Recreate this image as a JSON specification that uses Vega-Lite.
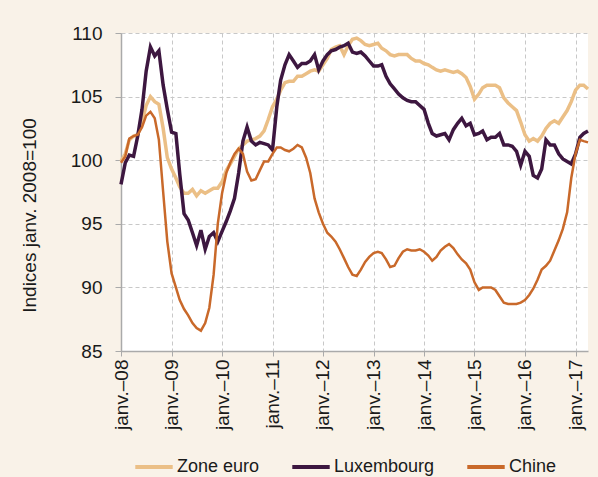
{
  "$schema": "https://vega.github.io/schema/vega-lite/v6.json",
  "width": 467,
  "height": 318,
  "autosize": {"type": "none"},
  "padding": {"left": 121, "top": 33, "right": 10, "bottom": 126},
  "background": "#f9f2e8",
  "config": {
    "view": {"fill": "white", "stroke": null},
    "font": "Liberation Sans",
    "axis": {"labelColor": "#1a1a1a", "titleColor": "#1a1a1a"}
  },
  "data": {"values": [
    {"d":"2008-01-01","Zone euro":99.9,"Luxembourg":98.1,"Chine":99.8},
    {"d":"2008-02-01","Zone euro":100.5,"Luxembourg":99.8,"Chine":100.3},
    {"d":"2008-03-01","Zone euro":101.6,"Luxembourg":100.4,"Chine":101.7},
    {"d":"2008-04-01","Zone euro":101.9,"Luxembourg":100.3,"Chine":101.9},
    {"d":"2008-05-01","Zone euro":102.0,"Luxembourg":101.9,"Chine":102.0},
    {"d":"2008-06-01","Zone euro":103.0,"Luxembourg":104.0,"Chine":102.6},
    {"d":"2008-07-01","Zone euro":104.3,"Luxembourg":107.0,"Chine":103.5},
    {"d":"2008-08-01","Zone euro":105.0,"Luxembourg":108.9,"Chine":103.8},
    {"d":"2008-09-01","Zone euro":104.6,"Luxembourg":108.2,"Chine":103.3},
    {"d":"2008-10-01","Zone euro":104.4,"Luxembourg":108.6,"Chine":101.6},
    {"d":"2008-11-01","Zone euro":102.5,"Luxembourg":105.9,"Chine":97.5},
    {"d":"2008-12-01","Zone euro":100.2,"Luxembourg":104.0,"Chine":93.6},
    {"d":"2009-01-01","Zone euro":99.3,"Luxembourg":102.2,"Chine":91.1},
    {"d":"2009-02-01","Zone euro":98.6,"Luxembourg":102.1,"Chine":90.0},
    {"d":"2009-03-01","Zone euro":97.9,"Luxembourg":98.9,"Chine":89.0},
    {"d":"2009-04-01","Zone euro":97.4,"Luxembourg":95.8,"Chine":88.3},
    {"d":"2009-05-01","Zone euro":97.4,"Luxembourg":95.3,"Chine":87.8},
    {"d":"2009-06-01","Zone euro":97.7,"Luxembourg":94.3,"Chine":87.2},
    {"d":"2009-07-01","Zone euro":97.2,"Luxembourg":93.3,"Chine":86.8},
    {"d":"2009-08-01","Zone euro":97.6,"Luxembourg":94.5,"Chine":86.6},
    {"d":"2009-09-01","Zone euro":97.4,"Luxembourg":93.0,"Chine":87.2},
    {"d":"2009-10-01","Zone euro":97.6,"Luxembourg":94.0,"Chine":88.4},
    {"d":"2009-11-01","Zone euro":97.8,"Luxembourg":94.3,"Chine":91.0},
    {"d":"2009-12-01","Zone euro":97.8,"Luxembourg":93.6,"Chine":95.0},
    {"d":"2010-01-01","Zone euro":98.3,"Luxembourg":94.4,"Chine":97.4},
    {"d":"2010-02-01","Zone euro":99.2,"Luxembourg":95.2,"Chine":99.0},
    {"d":"2010-03-01","Zone euro":99.7,"Luxembourg":96.0,"Chine":99.8},
    {"d":"2010-04-01","Zone euro":100.3,"Luxembourg":97.0,"Chine":100.5},
    {"d":"2010-05-01","Zone euro":100.9,"Luxembourg":99.0,"Chine":100.9},
    {"d":"2010-06-01","Zone euro":101.2,"Luxembourg":101.5,"Chine":100.5},
    {"d":"2010-07-01","Zone euro":101.5,"Luxembourg":102.6,"Chine":99.1},
    {"d":"2010-08-01","Zone euro":101.6,"Luxembourg":101.5,"Chine":98.4},
    {"d":"2010-09-01","Zone euro":101.7,"Luxembourg":101.2,"Chine":98.5},
    {"d":"2010-10-01","Zone euro":101.9,"Luxembourg":101.4,"Chine":99.2},
    {"d":"2010-11-01","Zone euro":102.3,"Luxembourg":101.3,"Chine":99.9},
    {"d":"2010-12-01","Zone euro":103.2,"Luxembourg":101.2,"Chine":99.9},
    {"d":"2011-01-01","Zone euro":104.2,"Luxembourg":100.8,"Chine":100.5},
    {"d":"2011-02-01","Zone euro":104.8,"Luxembourg":104.2,"Chine":101.0},
    {"d":"2011-03-01","Zone euro":105.5,"Luxembourg":106.3,"Chine":101.0},
    {"d":"2011-04-01","Zone euro":106.1,"Luxembourg":107.5,"Chine":100.8},
    {"d":"2011-05-01","Zone euro":106.2,"Luxembourg":108.3,"Chine":100.7},
    {"d":"2011-06-01","Zone euro":106.2,"Luxembourg":107.8,"Chine":100.9},
    {"d":"2011-07-01","Zone euro":106.6,"Luxembourg":107.3,"Chine":101.2},
    {"d":"2011-08-01","Zone euro":106.6,"Luxembourg":107.6,"Chine":101.0},
    {"d":"2011-09-01","Zone euro":106.8,"Luxembourg":107.6,"Chine":100.2},
    {"d":"2011-10-01","Zone euro":107.0,"Luxembourg":107.8,"Chine":99.0},
    {"d":"2011-11-01","Zone euro":107.1,"Luxembourg":108.3,"Chine":97.0},
    {"d":"2011-12-01","Zone euro":107.0,"Luxembourg":107.1,"Chine":95.9},
    {"d":"2012-01-01","Zone euro":107.5,"Luxembourg":107.8,"Chine":95.0},
    {"d":"2012-02-01","Zone euro":108.0,"Luxembourg":108.3,"Chine":94.3},
    {"d":"2012-03-01","Zone euro":108.7,"Luxembourg":108.6,"Chine":94.0},
    {"d":"2012-04-01","Zone euro":108.9,"Luxembourg":108.7,"Chine":93.6},
    {"d":"2012-05-01","Zone euro":109.0,"Luxembourg":108.9,"Chine":93.0},
    {"d":"2012-06-01","Zone euro":108.3,"Luxembourg":109.0,"Chine":92.3},
    {"d":"2012-07-01","Zone euro":109.0,"Luxembourg":109.2,"Chine":91.6},
    {"d":"2012-08-01","Zone euro":109.5,"Luxembourg":108.5,"Chine":91.0},
    {"d":"2012-09-01","Zone euro":109.6,"Luxembourg":108.4,"Chine":90.9},
    {"d":"2012-10-01","Zone euro":109.4,"Luxembourg":108.5,"Chine":91.4},
    {"d":"2012-11-01","Zone euro":109.1,"Luxembourg":108.2,"Chine":92.0},
    {"d":"2012-12-01","Zone euro":109.0,"Luxembourg":107.8,"Chine":92.4},
    {"d":"2013-01-01","Zone euro":109.1,"Luxembourg":107.4,"Chine":92.7},
    {"d":"2013-02-01","Zone euro":109.2,"Luxembourg":107.4,"Chine":92.8},
    {"d":"2013-03-01","Zone euro":108.8,"Luxembourg":107.5,"Chine":92.7},
    {"d":"2013-04-01","Zone euro":108.6,"Luxembourg":106.6,"Chine":92.2},
    {"d":"2013-05-01","Zone euro":108.3,"Luxembourg":106.0,"Chine":91.6},
    {"d":"2013-06-01","Zone euro":108.2,"Luxembourg":105.6,"Chine":91.7},
    {"d":"2013-07-01","Zone euro":108.3,"Luxembourg":105.2,"Chine":92.3},
    {"d":"2013-08-01","Zone euro":108.3,"Luxembourg":104.9,"Chine":92.8},
    {"d":"2013-09-01","Zone euro":108.3,"Luxembourg":104.7,"Chine":93.0},
    {"d":"2013-10-01","Zone euro":108.0,"Luxembourg":104.6,"Chine":92.9},
    {"d":"2013-11-01","Zone euro":107.8,"Luxembourg":104.6,"Chine":92.9},
    {"d":"2013-12-01","Zone euro":107.8,"Luxembourg":104.3,"Chine":93.0},
    {"d":"2014-01-01","Zone euro":107.6,"Luxembourg":104.0,"Chine":92.8},
    {"d":"2014-02-01","Zone euro":107.5,"Luxembourg":102.9,"Chine":92.5},
    {"d":"2014-03-01","Zone euro":107.3,"Luxembourg":102.1,"Chine":92.1},
    {"d":"2014-04-01","Zone euro":107.1,"Luxembourg":101.9,"Chine":92.4},
    {"d":"2014-05-01","Zone euro":107.0,"Luxembourg":102.0,"Chine":92.9},
    {"d":"2014-06-01","Zone euro":107.1,"Luxembourg":102.1,"Chine":93.2},
    {"d":"2014-07-01","Zone euro":107.0,"Luxembourg":101.6,"Chine":93.4},
    {"d":"2014-08-01","Zone euro":106.9,"Luxembourg":102.4,"Chine":93.1},
    {"d":"2014-09-01","Zone euro":107.0,"Luxembourg":102.9,"Chine":92.6},
    {"d":"2014-10-01","Zone euro":106.8,"Luxembourg":103.3,"Chine":92.2},
    {"d":"2014-11-01","Zone euro":106.5,"Luxembourg":102.7,"Chine":91.9},
    {"d":"2014-12-01","Zone euro":105.8,"Luxembourg":102.9,"Chine":91.4},
    {"d":"2015-01-01","Zone euro":104.8,"Luxembourg":102.0,"Chine":90.4},
    {"d":"2015-02-01","Zone euro":105.2,"Luxembourg":102.1,"Chine":89.8},
    {"d":"2015-03-01","Zone euro":105.7,"Luxembourg":102.3,"Chine":90.0},
    {"d":"2015-04-01","Zone euro":105.9,"Luxembourg":101.6,"Chine":90.0},
    {"d":"2015-05-01","Zone euro":105.9,"Luxembourg":101.8,"Chine":90.0},
    {"d":"2015-06-01","Zone euro":105.9,"Luxembourg":101.8,"Chine":89.8},
    {"d":"2015-07-01","Zone euro":105.7,"Luxembourg":102.1,"Chine":89.3},
    {"d":"2015-08-01","Zone euro":104.9,"Luxembourg":101.2,"Chine":88.8},
    {"d":"2015-09-01","Zone euro":104.5,"Luxembourg":101.2,"Chine":88.7},
    {"d":"2015-10-01","Zone euro":104.2,"Luxembourg":101.1,"Chine":88.7},
    {"d":"2015-11-01","Zone euro":103.9,"Luxembourg":100.7,"Chine":88.7},
    {"d":"2015-12-01","Zone euro":103.0,"Luxembourg":99.6,"Chine":88.8},
    {"d":"2016-01-01","Zone euro":102.0,"Luxembourg":100.7,"Chine":89.0},
    {"d":"2016-02-01","Zone euro":101.5,"Luxembourg":100.3,"Chine":89.4},
    {"d":"2016-03-01","Zone euro":101.7,"Luxembourg":98.8,"Chine":89.9},
    {"d":"2016-04-01","Zone euro":101.5,"Luxembourg":98.6,"Chine":90.6},
    {"d":"2016-05-01","Zone euro":101.9,"Luxembourg":99.3,"Chine":91.4},
    {"d":"2016-06-01","Zone euro":102.5,"Luxembourg":101.6,"Chine":91.7},
    {"d":"2016-07-01","Zone euro":102.9,"Luxembourg":101.2,"Chine":92.1},
    {"d":"2016-08-01","Zone euro":103.1,"Luxembourg":101.2,"Chine":92.9},
    {"d":"2016-09-01","Zone euro":102.9,"Luxembourg":100.5,"Chine":93.7},
    {"d":"2016-10-01","Zone euro":103.4,"Luxembourg":100.1,"Chine":94.6},
    {"d":"2016-11-01","Zone euro":103.9,"Luxembourg":99.9,"Chine":95.9},
    {"d":"2016-12-01","Zone euro":104.6,"Luxembourg":99.7,"Chine":98.6},
    {"d":"2017-01-01","Zone euro":105.5,"Luxembourg":100.5,"Chine":100.5},
    {"d":"2017-02-01","Zone euro":105.9,"Luxembourg":101.8,"Chine":101.6},
    {"d":"2017-03-01","Zone euro":105.9,"Luxembourg":102.1,"Chine":101.5},
    {"d":"2017-04-01","Zone euro":105.6,"Luxembourg":102.3,"Chine":101.4}
  ]},
  "transform": [
    {"fold": ["Zone euro", "Luxembourg", "Chine"], "as": ["serie", "valeur"]}
  ],
  "encoding": {
    "x": {
      "field": "d", "type": "temporal",
      "scale": {"type": "utc", "domain": [{"year": 2008, "month": 1, "date": 1, "utc": true}, {"year": 2017, "month": 4, "date": 1, "utc": true}], "nice": false},
      "axis": {
        "title": null,
        "tickCount": {"interval": "year", "step": 1},
        "labelExpr": "'janv.–' + utcFormat(datum.value, '%y')",
        "labelAngle": -90, "labelAlign": "right", "labelBaseline": "middle",
        "labelFontSize": 19, "labelPadding": 3,
        "tickSize": 5, "tickColor": "#aaaaaa",
        "domainColor": "#aaaaaa", "domainWidth": 1.5,
        "grid": true, "gridDash": [4, 3], "gridColor": "#c8c8c8", "gridWidth": 1
      }
    },
    "y": {
      "field": "valeur", "type": "quantitative",
      "scale": {"domain": [85, 110], "nice": false, "zero": false},
      "axis": {
        "title": "Indices janv. 2008=100",
        "titleFontSize": 19, "titleFontWeight": "normal", "titlePadding": 31,
        "titleY": 182,
        "values": [85, 90, 95, 100, 105, 110],
        "labelFontSize": 19, "labelPadding": 13,
        "tickSize": 6, "tickColor": "#aaaaaa",
        "domainColor": "#aaaaaa", "domainWidth": 1.5,
        "grid": true, "gridDash": [4, 3], "gridColor": "#c8c8c8", "gridWidth": 1
      }
    },
    "color": {
      "field": "serie", "type": "nominal",
      "scale": {"domain": ["Zone euro", "Luxembourg", "Chine"], "range": ["#ebbf86", "#3d1740", "#c9692a"]},
      "legend": {
        "title": null, "orient": "none", "legendX": 12, "legendY": 413,
        "direction": "horizontal",
        "symbolType": "stroke", "symbolSize": 1400, "symbolStrokeWidth": 4,
        "labelFontSize": 18, "labelColor": "#1a1a1a", "labelOffset": 2,
        "columnPadding": 24
      }
    }
  },
  "layer": [
    {"transform": [{"filter": "datum.serie === 'Zone euro'"}], "mark": {"type": "line", "strokeWidth": 3.5}},
    {"transform": [{"filter": "datum.serie === 'Luxembourg'"}], "mark": {"type": "line", "strokeWidth": 3.5}},
    {"transform": [{"filter": "datum.serie === 'Chine'"}], "mark": {"type": "line", "strokeWidth": 2.5}}
  ]
}
